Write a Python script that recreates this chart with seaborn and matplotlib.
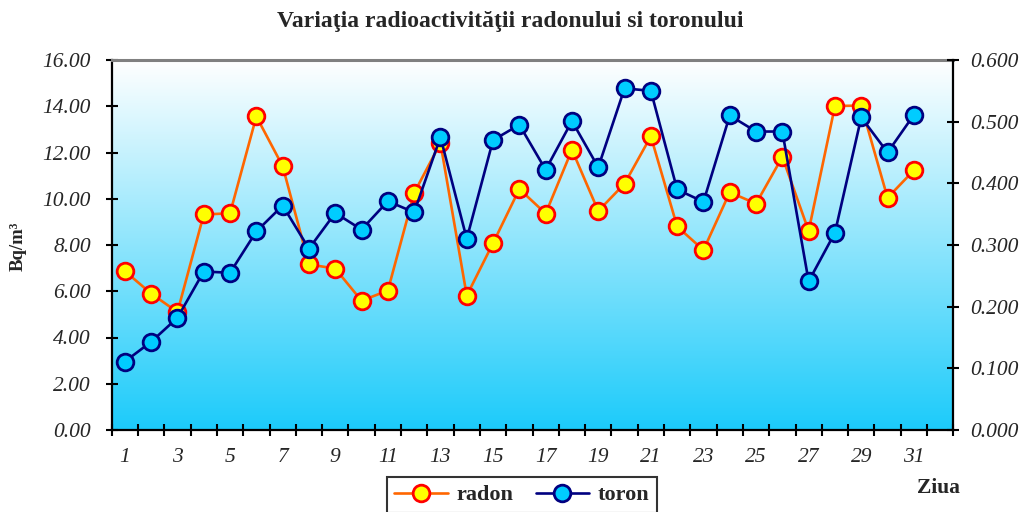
import numpy as np
import matplotlib
matplotlib.use("Agg")
import matplotlib.pyplot as plt
import seaborn as sns
from matplotlib.colors import LinearSegmentedColormap
from matplotlib.ticker import FixedLocator, FixedFormatter, NullFormatter

# ---------------- data ----------------
days = list(range(1, 32))
radon = [6.87, 5.90, 5.10, 9.32, 9.37, 13.56, 11.41, 7.16, 6.98, 5.59, 6.03,
         10.25, 12.41, 5.81, 8.08, 10.42, 9.36, 12.12, 9.47, 10.65, 12.70,
         8.80, 7.78, 10.28, 9.79, 11.81, 8.61, 14.01, 14.03, 10.04, 11.23]
toron = [0.111, 0.143, 0.182, 0.257, 0.255, 0.322, 0.364, 0.294, 0.352, 0.325,
         0.371, 0.353, 0.475, 0.310, 0.470, 0.495, 0.422, 0.501, 0.426, 0.554,
         0.550, 0.390, 0.370, 0.510, 0.484, 0.484, 0.241, 0.320, 0.507, 0.450,
         0.511]
left_ticks = [0, 2, 4, 6, 8, 10, 12, 14, 16]
right_ticks = [0.0, 0.1, 0.2, 0.3, 0.4, 0.5, 0.6]
x_label_days = list(range(1, 32, 2))
n_slots = 32  # category slots on the x axis (last one empty)

title = "Variaţia radioactivităţii radonului si toronului"
ylabel = "Bq/m³"
xlabel = "Ziua"

# ---------------- style ----------------
sns.set_theme(style="white")
plt.rcParams["font.family"] = ["Liberation Serif", "DejaVu Serif"]

W, H = 1021, 512
fig = plt.figure(figsize=(W / 100, H / 100), dpi=100)
L, R, T, B = 111.7, 953.3, 60.0, 430.0
ax = fig.add_axes([L / W, 1 - B / H, (R - L) / W, (B - T) / H])

xmin, xmax = 0.5, n_slots + 0.5
ymax_l = left_ticks[-1]
ymax_r = right_ticks[-1]

# gradient background
cmap = LinearSegmentedColormap.from_list("bg", ["#FFFFFF", "#1CCBFA"])
grad = np.linspace(0, 1, 256).reshape(-1, 1)
ax.imshow(grad, extent=[xmin, xmax, 0, ymax_l], aspect="auto", cmap=cmap,
          origin="upper", zorder=0, interpolation="bilinear")

sns.lineplot(x=days, y=radon, ax=ax, color="#FF6600", linewidth=1.9,
             marker="o", markersize=12, markerfacecolor="#FFFF00",
             markeredgecolor="#FF0000", markeredgewidth=2.0, label="radon",
             legend=False, zorder=3)

ax2 = ax.twinx()
sns.lineplot(x=days, y=toron, ax=ax2, color="#000080", linewidth=1.9,
             marker="o", markersize=12, markerfacecolor="#00CCFF",
             markeredgecolor="#000080", markeredgewidth=2.0, label="toron",
             legend=False, zorder=3)

ax.set_xlim(xmin, xmax)
ax.set_ylim(0, ymax_l)
ax2.set_ylim(0, ymax_r)
ax.set_xlabel("")
ax.set_ylabel("")
ax2.set_ylabel("")

# spines
for a in (ax, ax2):
    for s in a.spines.values():
        s.set_visible(False)
ax.spines["top"].set_visible(True)
ax.spines["top"].set_color("#808080")
ax.spines["top"].set_linewidth(2.2)
ax.spines["left"].set_visible(True)
ax.spines["left"].set_color("black")
ax.spines["left"].set_linewidth(1.6)
ax.spines["bottom"].set_visible(True)
ax.spines["bottom"].set_color("black")
ax.spines["bottom"].set_linewidth(1.6)
ax2.spines["right"].set_visible(True)
ax2.spines["right"].set_color("black")
ax2.spines["right"].set_linewidth(1.6)

tick_font = dict(family=["Liberation Serif", "DejaVu Serif"], style="italic", size=15.5)

# x ticks: boundaries (major) and labels (minor)
ax.xaxis.set_major_locator(FixedLocator(np.arange(xmin, xmax + 0.01, 1.0)))
ax.xaxis.set_major_formatter(NullFormatter())
ax.xaxis.set_minor_locator(FixedLocator(x_label_days))
ax.xaxis.set_minor_formatter(FixedFormatter([str(d) for d in x_label_days]))
ax.tick_params(axis="x", which="major", direction="inout", length=8.5,
               width=1.5, color="black", bottom=True)
ax.tick_params(axis="x", which="minor", length=0, pad=13, bottom=True)
for lab in ax.xaxis.get_minorticklabels():
    lab.set_fontproperties(tick_font)

ax.set_yticks(left_ticks)
ax.set_yticklabels([f"{v:.2f}" for v in left_ticks], **tick_font)
ax.tick_params(axis="y", direction="inout", length=8, width=1.5,
               color="black", left=True, pad=11)
ax2.set_yticks(right_ticks)
ax2.set_yticklabels([f"{v:.3f}" for v in right_ticks], **tick_font)
ax2.tick_params(axis="y", direction="inout", length=8, width=1.5,
                color="black", right=True, pad=8)
ax.grid(False)
ax2.grid(False)
ax2.patch.set_visible(False)

# texts
fig.text(510 / W, 1 - 21 / H, title, ha="center", va="center",
         fontsize=17, fontweight="bold")
fig.text(18 / W, 1 - 246 / H, ylabel, ha="center", va="center",
         rotation=90, fontsize=13.5, fontweight="bold")
fig.text(938 / W, 1 - 488 / H, xlabel, ha="center", va="center",
         fontsize=15.5, fontweight="bold")

# legend
handles = ax.get_lines()[-1:] + ax2.get_lines()[-1:]
leg = fig.legend(handles, ["radon", "toron"], loc="center",
                 bbox_to_anchor=(522 / W, 1 - 495 / H), ncol=2,
                 frameon=True, fancybox=False, edgecolor="black",
                 prop=dict(family=["Liberation Serif", "DejaVu Serif"],
                           weight="bold", size=16),
                 handlelength=2.4, columnspacing=1.0, handletextpad=0.4,
                 borderpad=0.35)
leg.get_frame().set_linewidth(1.5)

fig.savefig("out.png", dpi=100)
